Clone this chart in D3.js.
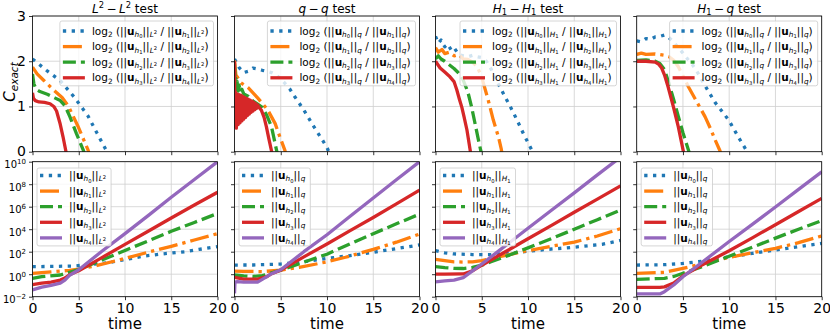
<!DOCTYPE html>
<html>
<head>
<meta charset="utf-8">
<script src="https://cdn.jsdelivr.net/npm/d3@7"></script>
<style>
body { margin: 0; background: #fff; }
svg text { font-family: "DejaVu Sans", sans-serif; white-space: pre; }
</style>
</head>
<body>
<script>
// ticks
var xTicks = [0, 5, 10, 15, 20];
var rateTicks = [0, 1, 2, 3];
var normTickPowers = [-2, 0, 2, 4, 6, 8, 10];

// top row: log2 ratios of successive norms, [time, value]
var rateL2 = [
  [[0,2.05],[1.5,1.8],[3,1.57],[4.5,1.21],[6,0.79],[7,0.4],[8,0.02],[8.3,-0.1]],
  [[0,1.87],[0.5,1.72],[1.2,1.58],[2.2,1.38],[3.2,1.2],[3.9,1.0],[4.9,0.57],[6,0.04],[6.2,-0.1]],
  [[0,1.72],[0.15,1.5],[0.4,1.38],[0.8,1.33],[1.6,1.27],[2.4,1.19],[3,1.13],[3.5,1.02],[4.05,0.77],[4.75,0.4],[5.5,0.03],[5.7,-0.1]],
  [[0,1.3],[0.1,1.18],[0.3,1.13],[0.7,1.1],[1.3,1.09],[1.9,1.06],[2.3,1.0],[2.6,0.9],[2.97,0.63],[3.3,0.33],[3.6,0.02],[3.7,-0.1]]
];
var rateQ = [
  [[0,2.05],[0.5,1.86],[1,1.75],[1.5,1.78],[2,1.85],[2.5,1.83],[3,1.8],[3.5,1.78],[4,1.75],[4.5,1.7],[5,1.61],[5.5,1.5],[6,1.38],[6.5,1.22],[7,1.07],[7.5,0.92],[8,0.75],[8.5,0.58],[9,0.42],[9.5,0.26],[10,0.09],[10.3,-0.05]],
  [[0,2.02],[0.15,1.7],[0.4,1.62],[0.7,1.52],[1,1.48],[1.5,1.41],[2,1.3],[2.5,1.19],[3,1.07],[3.6,0.92],[4.4,0.62],[4.9,0.33],[5.45,0.03],[5.6,-0.1]],
  [[0,1.95],[0.1,1.45],[0.15,1.62],[0.2,1.38],[0.3,1.55],[0.4,1.34],[0.5,1.47],[0.6,1.32],[0.8,1.38],[1,1.28],[1.5,1.22],[2,1.12],[2.5,1.05],[3,0.98],[3.5,0.8],[4,0.55],[4.55,0.03],[4.7,-0.1]],
  [[0,2.0],[0.04,0.55],[0.1,1.32],[0.2,0.52],[0.3,1.28],[0.4,0.6],[0.5,1.26],[0.6,0.64],[0.7,1.25],[0.8,0.68],[0.9,1.22],[1.0,0.72],[1.1,1.2],[1.2,0.76],[1.3,1.18],[1.4,0.8],[1.5,1.16],[1.6,0.83],[1.7,1.14],[1.8,0.87],[1.9,1.12],[2.0,0.9],[2.1,1.09],[2.2,0.93],[2.3,1.06],[2.4,0.96],[2.5,1.03],[2.6,0.99],[2.9,0.92],[3.2,0.76],[3.45,0.55],[3.7,0.3],[4.0,0.02],[4.1,-0.08]]
];
var rateH1 = [
  [[0,2.55],[0.3,2.4],[0.6,2.47],[1,2.32],[1.3,2.38],[1.7,2.25],[2,2.3],[2.5,2.15],[3,2.12],[3.5,2.1],[4,2.13],[4.5,2.1],[5,2.08],[5.5,2.0],[6,1.83],[6.5,1.6],[7,1.42],[7.5,1.22],[8,1.03],[8.5,0.83],[9,0.62],[9.5,0.4],[10,0.2],[10.4,0.04],[10.6,-0.1]],
  [[0,2.3],[0.3,2.2],[0.7,2.26],[1,2.17],[1.5,2.2],[2,2.12],[2.5,2.15],[3,2.05],[3.5,2.04],[4,1.98],[4.5,1.88],[5,1.65],[5.2,1.5],[5.7,1.14],[6.25,0.7],[6.8,0.33],[7.1,0.07],[7.2,-0.05]],
  [[0,2.05],[0.3,2.12],[0.6,2.05],[1,2.0],[2,1.84],[2.5,1.74],[3,1.58],[3.5,1.32],[3.9,0.99],[4.3,0.6],[4.6,0.3],[4.9,0.02],[5,-0.1]],
  [[0,2.0],[0.5,1.85],[1,1.76],[1.5,1.67],[2,1.55],[2.3,1.37],[2.6,1.15],[2.85,0.98],[3.1,0.76],[3.4,0.48],[3.75,0.03],[3.85,-0.1]]
];
var rateH1q = [
  [[0,2.45],[0.5,2.43],[1,2.5],[1.5,2.48],[2,2.54],[2.5,2.55],[3,2.58],[3.5,2.52],[4,2.42],[4.5,2.3],[5,2.18],[5.5,2.05],[6,1.93],[6.5,1.78],[7,1.6],[7.5,1.42],[8,1.25],[8.5,1.08],[9,0.95],[9.5,0.82],[10,0.68],[10.5,0.5],[11,0.32],[11.5,0.15],[11.8,0.05],[12,-0.05]],
  [[0,2.15],[0.5,2.18],[1,2.15],[2,2.16],[3,2.13],[3.5,2.1],[4,2.02],[4.5,1.88],[5,1.68],[5.6,1.43],[6.5,1.1],[7.4,0.77],[8,0.5],[8.5,0.25],[9,0.02],[9.1,-0.05]],
  [[0,2.02],[1,2.03],[2,2.0],[2.5,1.95],[3,1.82],[3.5,1.5],[4,1.15],[4.5,0.78],[5,0.42],[5.65,0],[5.75,-0.08]],
  [[0,2.0],[1,2.0],[2,1.98],[2.4,1.93],[2.7,1.85],[3,1.7],[3.4,1.43],[3.96,1.0],[4.5,0.55],[5.05,0],[5.15,-0.08]]
];

// bottom row: norms of u_h0 .. u_h4, [time, value]
var normL2 = [
  [[0,4.7],[2,4.9],[4.6,5.4],[6,7],[8,10],[10,20],[12,40],[14,63],[16.5,100],[18,160],[20,280]],
  [[0,1.2],[2,1.6],[4,2.2],[5,2.8],[7,6],[10,25],[12.5,90],[15,300],[17.5,1100],[20,4000]],
  [[0,0.42],[1,0.6],[3,0.85],[4,1.5],[5,2.6],[7.5,18],[10,130],[12.5,900],[15,6500],[17.5,4e4],[20,2.5e5]],
  [[0,0.12],[1,0.16],[2,0.2],[3,0.3],[3.5,0.45],[4,0.9],[5,2],[7.5,30],[10,450],[12.5,6500],[15,1e5],[17.5,1.4e6],[20,1.9e7]],
  [[0,0.04],[1,0.07],[2,0.1],[3,0.16],[3.5,0.3],[4,0.8],[5,2.5],[7.5,110],[10,4000],[12.5,1.6e5],[15,7e6],[17.5,2.6e8],[20,1e10]]
];
var normQ = [
  [[0,6.5],[2,6.6],[5,8],[7,11],[10,25],[12.5,45],[15,90],[17.5,190],[20,400]],
  [[0,1.9],[1,1.8],[3,1.7],[5,2.3],[7,4],[10,12.6],[12,32],[15,160],[17.5,700],[20,3700]],
  [[0,0.85],[1,0.7],[2,0.63],[3,0.75],[4,1.3],[5,2.3],[7.5,12],[10,60],[12.5,500],[15,4000],[17.5,3e4],[20,2.2e5]],
  [[0,0.52],[1,0.37],[2.5,0.37],[3.5,0.6],[4,1.1],[5,2.3],[7.5,35],[10,480],[12.5,7500],[15,1.1e5],[17.5,1.8e6],[20,3e7]],
  [[0,0.02],[0.05,0.2],[0.3,0.22],[1,0.2],[2.5,0.2],[3.5,0.6],[4,1.1],[5,2.5],[7.5,100],[10,3200],[12.5,1.4e5],[15,6e6],[17.5,2.5e8],[20,1e10]]
];
var normH1 = [
  [[0,126],[1,79],[2,63],[4,56],[6,56],[8,71],[10,112],[12,158],[15,251],[18,450],[20,1000]],
  [[0,21],[1,16],[2,12.6],[3,12],[4,12.6],[5,16],[6,25],[8,56],[10,126],[12.5,300],[15,700],[17.5,2500],[20,11000]],
  [[0,4.7],[1,3.8],[2,3.3],[3,3.2],[4,4],[5,6.3],[6,12.6],[8,50],[10,220],[12.5,1400],[15,1e4],[17.5,7e4],[20,5e5]],
  [[0,1],[1,1],[3,1.05],[4,2],[5,6.3],[7.5,93],[10,1400],[12.5,2.1e4],[15,3.2e5],[17.5,4.7e6],[20,7e7]],
  [[0,0.21],[1,0.25],[2,0.3],[3,0.5],[4,2],[5,8],[7.5,310],[10,1.2e4],[12.5,4.6e5],[15,1.7e7],[17.5,6.7e8],[20,2.5e10]]
];
var normH1q = [
  [[0,6.5],[3,7],[5,9],[7,14],[10,35],[12.5,70],[15,140],[17.5,280],[20,550]],
  [[0,1.2],[3,1.45],[5,3.3],[7,8],[10,32],[12.5,80],[15,200],[17.5,630],[20,2500]],
  [[0,0.35],[3,0.43],[4,0.63],[5,1.2],[7,4.5],[10,40],[12.5,250],[15,1600],[17.5,1e4],[20,5.8e4]],
  [[0,0.068],[2.5,0.068],[3,0.075],[4,0.16],[5,0.7],[7,6.3],[10,120],[12.5,1.7e3],[15,2.5e4],[17.5,3.7e5],[20,5.5e6]],
  [[0,0.0175],[2.5,0.0175],[3,0.028],[4,0.11],[5,0.6],[7,10.5],[10,800],[12.5,2.7e4],[15,9.5e5],[17.5,3.5e7],[20,1.26e9]]
];

// titles and norm names, as math segments [text, style]
var panelTitles = [
  [["L","i"],["2","sup"],["\u2009\u2212\u2009",""],["L","i"],["2","sup"],[" test",""]],
  [["q","i"],["\u2009\u2212\u2009",""],["q","i"],[" test",""]],
  [["H","i"],["1","s"],["\u2009\u2212\u2009",""],["H","i"],["1","s"],[" test",""]],
  [["H","i"],["1","s"],["\u2009\u2212\u2009",""],["q","i"],[" test",""]]
];
var normNames = [
  [["L","si"],["2","ssup"]],
  [["q","si"]],
  [["H","si"],["1","ss"]],
  [["q","si"]]
];

var rates = [rateL2, rateQ, rateH1, rateH1q];
var norms = [normL2, normQ, normH1, normH1q];

var colors = ["#1f77b4", "#ff7f0e", "#2ca02c", "#d62728", "#9467bd"];
var dashes = ["3.3,5.5", "19,5,3.3,5", "13,5", null, null];

var segStyle = {
  "":     {size: 1,   off: 0},
  "b":    {size: 1,   off: 0, bold: true},
  "i":    {size: 1,   off: 0, italic: true},
  "s":    {size: 0.7, off: 0.22},
  "si":   {size: 0.7, off: 0.22, italic: true},
  "ss":   {size: 0.5, off: 0.36},
  "ssup": {size: 0.5, off: -0.02},
  "sup":  {size: 0.7, off: -0.38}
};

function mathText(text, segs, base) {
  var cur = 0;
  segs.forEach(function (s) {
    var st = segStyle[s[1]];
    var off = st.off * base;
    text.append("tspan")
      .attr("dy", off - cur)
      .attr("font-size", st.size * base)
      .attr("font-style", st.italic ? "italic" : null)
      .attr("font-weight", st.bold ? "bold" : null)
      .text(s[0]);
    cur = off;
  });
  return text;
}

function normLabel(k, name) {
  return [["||",""],["u","b"],["h","si"],[String(k),"ss"],["||",""]].concat(name);
}
function rateLabel(k, name) {
  return [["log",""],["2","s"],[" (",""]]
    .concat(normLabel(k, name), [[" / ",""]], normLabel(k + 1, name), [[")",""]]);
}

var svg = d3.select("body").append("svg")
  .attr("width", 830).attr("height", 332);

var colLeft = [32.5, 234.5, 435.5, 636.7];
var plotW = 185;
var topY = [16, 151.7];
var botY = [161.7, 296.7];
var tickFont = 14;

function drawLegend(g, labels, alignRight, px0, px1, boxTop, firstRow, rowH) {
  var lg = g.append("g");
  var box = lg.append("rect");
  var maxW = 0;
  labels.forEach(function (segs, k) {
    var cy = firstRow + k * rowH;
    lg.append("line")
      .attr("x1", 3).attr("x2", 25).attr("y1", cy).attr("y2", cy)
      .attr("stroke", colors[k]).attr("stroke-width", 3.3)
      .attr("stroke-dasharray", dashes[k]);
    var t = lg.append("text")
      .attr("transform", "translate(32," + (cy + 3.6) + ")");
    mathText(t, segs, 10.5);
    maxW = Math.max(maxW, t.node().getComputedTextLength());
  });
  var w = 32 + maxW + 5;
  var h = firstRow + (labels.length - 1) * rowH + 8;
  box.attr("width", w).attr("height", h).attr("rx", 2)
    .attr("fill", "white").attr("fill-opacity", 0.8)
    .attr("stroke", "#cccccc").attr("stroke-width", 0.8);
  var lx = alignRight ? px1 - 4 - w : px0 + 4.5;
  lg.attr("transform", "translate(" + lx + "," + boxTop + ")");
}

function drawPanel(col, row) {
  var x0 = colLeft[col], x1 = x0 + plotW;
  var yr = row === 0 ? topY : botY;
  var x = d3.scaleLinear().domain([0, 20]).range([x0, x1]);
  var y = row === 0
    ? d3.scaleLinear().domain([0, 3]).range([yr[1], yr[0]])
    : d3.scaleLog().domain([1e-2, 1e10]).range([yr[1], yr[0]]);
  var yTickVals = row === 0 ? rateTicks : normTickPowers.map(function (p) { return Math.pow(10, p); });
  var g = svg.append("g");
  var clipId = "clip" + col + "_" + row;
  g.append("clipPath").attr("id", clipId).append("rect")
    .attr("x", x0).attr("y", yr[0]).attr("width", plotW).attr("height", yr[1] - yr[0]);

  // grid
  g.selectAll(".gx").data(xTicks).enter().append("line")
    .attr("x1", function (d) { return x(d); }).attr("x2", function (d) { return x(d); })
    .attr("y1", yr[0]).attr("y2", yr[1])
    .attr("stroke", "#cfcfcf").attr("stroke-width", 0.8);
  g.selectAll(".gy").data(yTickVals).enter().append("line")
    .attr("x1", x0).attr("x2", x1)
    .attr("y1", function (d) { return y(d); }).attr("y2", function (d) { return y(d); })
    .attr("stroke", "#cfcfcf").attr("stroke-width", 0.8);

  // series
  var data = row === 0 ? rates[col] : norms[col];
  var line = d3.line().x(function (d) { return x(d[0]); }).y(function (d) { return y(d[1]); });
  g.append("g").attr("clip-path", "url(#" + clipId + ")")
    .selectAll("path").data(data).enter().append("path")
    .attr("d", line)
    .attr("fill", "none")
    .attr("stroke", function (d, k) { return colors[k]; })
    .attr("stroke-width", 3.3)
    .attr("stroke-linejoin", "round")
    .attr("stroke-dasharray", function (d, k) { return dashes[k]; });

  // x axis
  var xa = g.append("g").attr("transform", "translate(0," + yr[1] + ")")
    .call(d3.axisBottom(x).tickValues(xTicks).tickSizeInner(3.5).tickSizeOuter(0).tickPadding(3)
      .tickFormat(row === 0 ? function () { return ""; } : d3.format("d")));
  xa.select(".domain").remove();
  xa.selectAll("line").attr("stroke-width", 0.8);
  xa.selectAll("text").attr("font-size", tickFont).attr("font-family", "DejaVu Sans").attr("fill", "#000");

  // y axis
  var ya = g.append("g").attr("transform", "translate(" + x0 + ",0)")
    .call(d3.axisLeft(y).tickValues(yTickVals).tickSizeInner(3.5).tickSizeOuter(0)
      .tickFormat(function () { return ""; }));
  ya.select(".domain").remove();
  ya.selectAll("line").attr("stroke-width", 0.8);
  if (col === 0) {
    ya.selectAll(".tick").each(function (d) {
      var t = d3.select(this).select("text")
        .attr("x", -6.5).attr("dy", null).attr("y", row === 0 ? 4 : 6)
        .attr("text-anchor", "end").attr("fill", "#000")
        .attr("font-family", "DejaVu Sans");
      t.text(null);
      if (row === 0) {
        t.attr("font-size", tickFont).text(d);
      } else {
        var p = Math.round(Math.log10(d));
        mathText(t, [["10",""],[p < 0 ? "\u2212" + (-p) : String(p),"sup"]], 10);
      }
    });
  }

  // spines
  g.append("rect").attr("x", x0).attr("y", yr[0]).attr("width", plotW).attr("height", yr[1] - yr[0])
    .attr("fill", "none").attr("stroke", "#000").attr("stroke-width", 0.8);

  // legend and column texts
  if (row === 0) {
    var labels = [0, 1, 2, 3].map(function (k) { return rateLabel(k, normNames[col]); });
    drawLegend(g, labels, true, x0, x1, yr[0] + 5, 10, 15.6);
    var title = svg.append("text")
      .attr("transform", "translate(" + (x0 + plotW / 2) + ",12.5)")
      .attr("text-anchor", "middle");
    mathText(title, panelTitles[col], 12);
  } else {
    var labels2 = [0, 1, 2, 3, 4].map(function (k) { return normLabel(k, normNames[col]); });
    drawLegend(g, labels2, false, x0, x1, yr[0] + 6.3, 7.5, 15.6);
    svg.append("text")
      .attr("x", x0 + plotW / 2).attr("y", 329)
      .attr("text-anchor", "middle").attr("font-size", 15)
      .text("time");
  }
}

for (var c = 0; c < 4; c++) {
  drawPanel(c, 0);
  drawPanel(c, 1);
}

// y label
var yl = svg.append("text")
  .attr("transform", "translate(15,82) rotate(-90)")
  .attr("text-anchor", "middle");
mathText(yl, [["C","i"],["exact","si"]], 15);
</script>
</body>
</html>
